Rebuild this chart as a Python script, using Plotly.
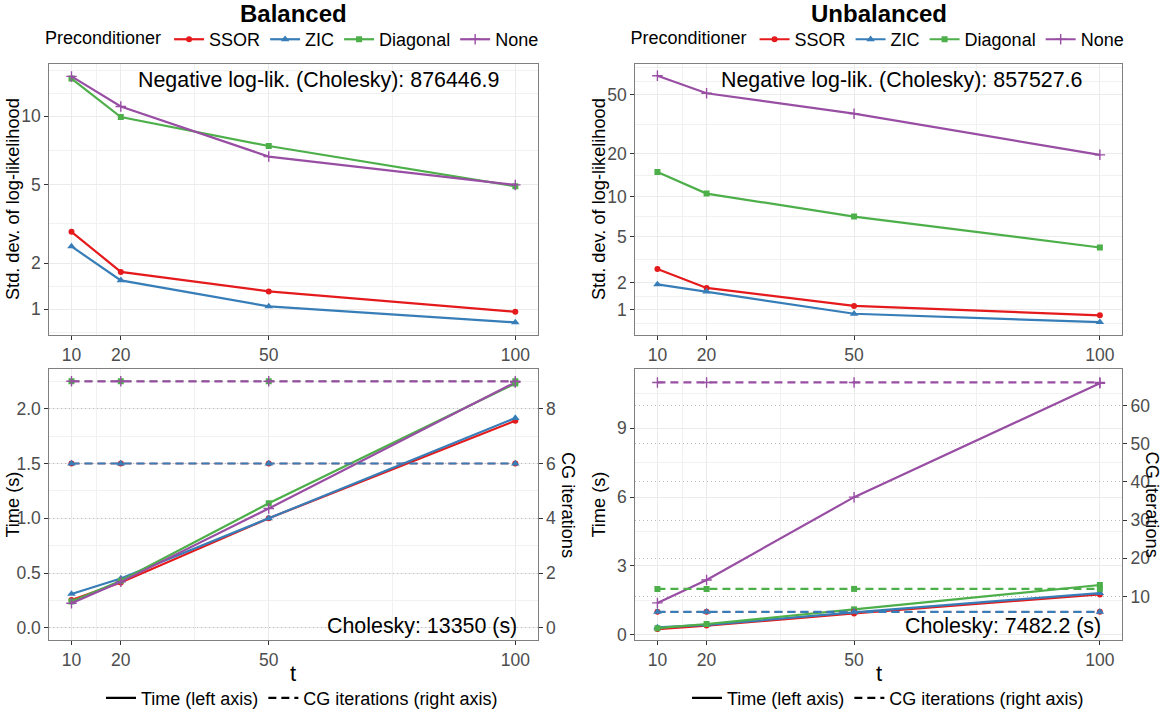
import math
import plotly.graph_objects as go

# ---------------- data ----------------
t_vals = [10, 20, 50, 100]
precs = ["SSOR", "ZIC", "Diagonal", "None"]
colors = {"SSOR": "#E41A1C", "ZIC": "#377EB8", "Diagonal": "#4DAF4A", "None": "#984EA3"}
symbols = {"SSOR": "circle", "ZIC": "triangle-up", "Diagonal": "square", "None": "cross-thin"}

# Std. dev. of log-likelihood
sd_bal_ssor = [2.96, 1.78, 1.34, 0.955]
sd_bal_zic = [2.48, 1.58, 1.05, 0.78]
sd_bal_diag = [14.3, 9.9, 7.44, 4.92]
sd_bal_none = [14.6, 10.96, 6.69, 4.99]

sd_unb_ssor = [2.70, 1.78, 1.12, 0.84]
sd_unb_zic = [1.93, 1.63, 0.884, 0.66]
sd_unb_diag = [14.9, 10.5, 7.14, 4.11]
sd_unb_none = [66.7, 51.1, 37.3, 19.6]

# Time (s)
time_bal_ssor = [0.255, 0.415, 1.0, 1.89]
time_bal_zic = [0.31, 0.45, 1.0, 1.915]
time_bal_diag = [0.24, 0.43, 1.137, 2.23]
time_bal_none = [0.225, 0.42, 1.09, 2.24]

time_unb_ssor = [0.25, 0.40, 0.93, 1.76]
time_unb_zic = [0.32, 0.43, 0.98, 1.82]
time_unb_diag = [0.29, 0.47, 1.11, 2.17]
time_unb_none = [1.39, 2.39, 6.0, 10.96]

# CG iterations
cg_bal_ssor = [6, 6, 6, 6]
cg_bal_zic = [6, 6, 6, 6]
cg_bal_diag = [9, 9, 9, 9]
cg_bal_none = [9, 9, 9, 9]

cg_unb_ssor = [6, 6, 6, 6]
cg_unb_zic = [6, 6, 6, 6]
cg_unb_diag = [12, 12, 12, 12]
cg_unb_none = [66, 66, 66, 66]

titles = ["Balanced", "Unbalanced"]
chol_nll = ["876446.9", "857527.6"]
chol_time = ["13350", "7482.2"]

x_ticks = [10, 20, 50, 100]
sd_ticks_bal = [1, 2, 5, 10]
sd_ticks_unb = [1, 2, 5, 10, 20, 50]
time_ticks_bal = [0, 0.5, 1.0, 1.5, 2.0]
time_ticks_unb = [0, 3, 6, 9]
cg_ticks_bal = [0, 2, 4, 6, 8]
cg_ticks_unb = [10, 20, 30, 40, 50, 60]
cg_scale_bal = 4
cg_scale_unb = 6

sd = {
    "bal": dict(SSOR=sd_bal_ssor, ZIC=sd_bal_zic, Diagonal=sd_bal_diag, None_=sd_bal_none),
    "unb": dict(SSOR=sd_unb_ssor, ZIC=sd_unb_zic, Diagonal=sd_unb_diag, None_=sd_unb_none),
}
tm = {
    "bal": dict(SSOR=time_bal_ssor, ZIC=time_bal_zic, Diagonal=time_bal_diag, None_=time_bal_none),
    "unb": dict(SSOR=time_unb_ssor, ZIC=time_unb_zic, Diagonal=time_unb_diag, None_=time_unb_none),
}
cg = {
    "bal": dict(SSOR=cg_bal_ssor, ZIC=cg_bal_zic, Diagonal=cg_bal_diag, None_=cg_bal_none),
    "unb": dict(SSOR=cg_unb_ssor, ZIC=cg_unb_zic, Diagonal=cg_unb_diag, None_=cg_unb_none),
}

# ---------------- styling ----------------
W, H = 1163, 717
FONT = "Liberation Sans, Arial, Helvetica, sans-serif"
TICK_COL = "#4D4D4D"
GRID = "#EBEBEB"
MINOR = "#F1F1F1"
BORDER = "#7F7F7F"
LW = 2.2
TICK_SIZE = 17.5


def px_x(p):
    return p / W


def px_y(p):
    return 1 - p / H


xdom_l = [px_x(49.3), px_x(537.5)]
xdom_r = [px_x(635.3), px_x(1122.0)]
ydom_top = [px_y(338.3), px_y(64.3)]
ydom_bot = [px_y(647.3), px_y(373.3)]


def key(p):
    return "None_" if p == "None" else p


def marker(p):
    sizes = {"SSOR": 6, "ZIC": 7.5, "Diagonal": 6, "None": 7.5}
    m = dict(symbol=symbols[p], color=colors[p], size=sizes[p])
    if p == "None":
        m.update(line=dict(color=colors[p], width=1.4))
    return m


fig = go.Figure()

panels = [("bal", "x", "y", "x3", "y3", "y5"), ("unb", "x2", "y2", "x4", "y4", "y6")]
for dk, xt, yt, xb, yb, yc in panels:
    for p in precs:
        # top: std dev on a log(1 + y) scale
        fig.add_trace(go.Scatter(
            x=t_vals, y=[v + 1 for v in sd[dk][key(p)]], xaxis=xt, yaxis=yt,
            mode="lines+markers", line=dict(color=colors[p], width=LW),
            marker=marker(p), showlegend=False, name=p))
    for p in precs:
        fig.add_trace(go.Scatter(
            x=t_vals, y=tm[dk][key(p)], xaxis=xb, yaxis=yb,
            mode="lines+markers", line=dict(color=colors[p], width=LW),
            marker=marker(p), showlegend=False, name=p))
    for i, p in enumerate(precs):
        vals = cg[dk][key(p)]
        # series fully covered by a later series are drawn slightly thinner
        covered = any(cg[dk][key(q)] == vals for q in precs[i + 1:])
        fig.add_trace(go.Scatter(
            x=t_vals, y=vals, xaxis=xb, yaxis=yc,
            mode="lines+markers",
            line=dict(color=colors[p], width=1.6 if covered else LW, dash="8px,5px"),
            marker=marker(p), showlegend=False, name=p))

# legend dummy traces
for lg in ["legend", "legend2"]:
    for p in precs:
        fig.add_trace(go.Scatter(
            x=[None], y=[None], xaxis="x", yaxis="y", mode="lines+markers",
            line=dict(color=colors[p], width=LW), marker=marker(p),
            name=p, legend=lg, showlegend=True))
for lg in ["legend3", "legend4"]:
    fig.add_trace(go.Scatter(x=[None], y=[None], xaxis="x3", yaxis="y3", mode="lines",
                             line=dict(color="black", width=LW), name="Time (left axis)",
                             legend=lg, showlegend=True))
    fig.add_trace(go.Scatter(x=[None], y=[None], xaxis="x3", yaxis="y3", mode="lines",
                             line=dict(color="black", width=LW, dash="8px,5px"),
                             name="CG iterations (right axis)", legend=lg, showlegend=True))


def minor_between(vals, lo, hi, log=False):
    """Midpoints between major breaks (ggplot style), extended one step at each end."""
    f = (lambda v: math.log10(v)) if log else (lambda v: v)
    g = (lambda v: 10 ** v) if log else (lambda v: v)
    b = [f(v) for v in vals]
    bd = b[1] - b[0]
    ext = [b[0] - bd] + b + [b[-1] + bd]
    mids = [(ext[i] + ext[i + 1]) / 2 for i in range(len(ext) - 1)] + [ext[-1], ext[0]]
    return [g(m) for m in mids if lo <= m <= hi]


x_minor = [15, 35, 75]
xaxis_common = dict(
    range=[5.5, 104.5], tickmode="array", tickvals=x_ticks, ticktext=[str(v) for v in x_ticks],
    showgrid=True, gridcolor=GRID, gridwidth=1.1, zeroline=False,
    showline=True, linecolor=BORDER, linewidth=1, mirror=True,
    ticks="outside", ticklen=4, tickcolor="#333333", tickwidth=1,
    tickfont=dict(family=FONT, size=TICK_SIZE, color=TICK_COL),
    minor=dict(tickmode="array", tickvals=x_minor, showgrid=True, gridcolor=MINOR, gridwidth=0.7),
)

layout = dict(
    width=W, height=H, autosize=False,
    margin=dict(l=0, r=0, t=0, b=0),
    paper_bgcolor="white", plot_bgcolor="white",
    font=dict(family=FONT, color="black"),
)

layout["xaxis"] = dict(xaxis_common, domain=xdom_l, anchor="y")
layout["xaxis2"] = dict(xaxis_common, domain=xdom_r, anchor="y2")
layout["xaxis3"] = dict(xaxis_common, domain=xdom_l, anchor="y3")
layout["xaxis4"] = dict(xaxis_common, domain=xdom_r, anchor="y4")

yaxis_common = dict(
    showgrid=True, gridcolor=GRID, gridwidth=1.1, zeroline=False,
    showline=True, linecolor=BORDER, linewidth=1, mirror=True,
    ticks="outside", ticklen=4, tickcolor="#333333", tickwidth=1,
    tickfont=dict(family=FONT, size=TICK_SIZE, color=TICK_COL),
)

rng_tl = [0.204, 1.2423]
tv = [v + 1 for v in sd_ticks_bal]
layout["yaxis"] = dict(yaxis_common, type="log", domain=ydom_top, anchor="x", range=rng_tl,
                       tickmode="array", tickvals=tv, ticktext=[str(v) for v in sd_ticks_bal],
                       minor=dict(tickmode="array", tickvals=minor_between(tv, rng_tl[0], rng_tl[1], log=True),
                                  showgrid=True, gridcolor=MINOR, gridwidth=0.7))
rng_tr = [0.1394, 1.9106]
tv = [v + 1 for v in sd_ticks_unb]
layout["yaxis2"] = dict(yaxis_common, type="log", domain=ydom_top, anchor="x2", range=rng_tr,
                        tickmode="array", tickvals=tv, ticktext=[str(v) for v in sd_ticks_unb],
                        minor=dict(tickmode="array", tickvals=minor_between(tv, rng_tr[0], rng_tr[1], log=True),
                                   showgrid=True, gridcolor=MINOR, gridwidth=0.7))

rng_bl = [-0.111, 2.361]
layout["yaxis3"] = dict(yaxis_common, domain=ydom_bot, anchor="x3", range=rng_bl,
                        tickmode="array", tickvals=time_ticks_bal,
                        ticktext=["%.1f" % v for v in time_ticks_bal],
                        minor=dict(tickmode="array", tickvals=minor_between(time_ticks_bal, rng_bl[0], rng_bl[1]),
                                   showgrid=True, gridcolor=MINOR, gridwidth=0.7))
rng_br = [-0.23, 11.58]
layout["yaxis4"] = dict(yaxis_common, domain=ydom_bot, anchor="x4", range=rng_br,
                        tickmode="array", tickvals=time_ticks_unb,
                        ticktext=[str(v) for v in time_ticks_unb],
                        minor=dict(tickmode="array", tickvals=minor_between(time_ticks_unb, rng_br[0], rng_br[1]),
                                   showgrid=True, gridcolor=MINOR, gridwidth=0.7))

sec_common = dict(
    showgrid=True, gridcolor="#BDBDBD", gridwidth=1, griddash="1px,3px", zeroline=False,
    showline=True, linecolor=BORDER, linewidth=1,
    ticks="outside", ticklen=4, tickcolor="#333333", tickwidth=1,
    tickfont=dict(family=FONT, size=TICK_SIZE, color=TICK_COL), side="right",
)
layout["yaxis5"] = dict(sec_common, overlaying="y3", anchor="x3",
                        range=[v * cg_scale_bal for v in rng_bl],
                        tickmode="array", tickvals=cg_ticks_bal, ticktext=[str(v) for v in cg_ticks_bal])
layout["yaxis6"] = dict(sec_common, overlaying="y4", anchor="x4",
                        range=[v * cg_scale_unb for v in rng_br],
                        tickmode="array", tickvals=cg_ticks_unb, ticktext=[str(v) for v in cg_ticks_unb])

leg_font = dict(family=FONT, size=18, color="black")
for name, cx in [("legend", 293.5), ("legend2", 879)]:
    layout[name] = dict(orientation="h", x=px_x(cx), xanchor="center", y=px_y(40), yanchor="middle",
                        title=dict(text="Preconditioner", side="left", font=leg_font), font=leg_font,
                        bgcolor="rgba(0,0,0,0)", itemwidth=30, tracegroupgap=0)
for name, cx in [("legend3", 302), ("legend4", 888)]:
    layout[name] = dict(orientation="h", x=px_x(cx), xanchor="center", y=px_y(706), yanchor="middle",
                        font=leg_font, bgcolor="rgba(0,0,0,0)", itemwidth=30)

ann = []
title_font = dict(family=FONT, size=24, color="black")
ax_font = dict(family=FONT, size=18.2, color="black")
txt_font = dict(family=FONT, size=21.4, color="black")
centers = [293.4, 878.6]
ytitle_x = [13, 599]
cg_x = [568.7, 1152]
nll_right = [501, 1084]
chol_right = [519, 1103]
for i in range(2):
    ann.append(dict(text="<b>%s</b>" % titles[i], x=px_x(centers[i]), y=px_y(14), xref="paper", yref="paper",
                    xanchor="center", yanchor="middle", showarrow=False, font=title_font))
    ann.append(dict(text="Negative log-lik. (Cholesky): %s" % chol_nll[i], x=px_x(nll_right[i]), y=px_y(81),
                    xref="paper", yref="paper", xanchor="right", yanchor="middle", showarrow=False, font=txt_font))
    ann.append(dict(text="Cholesky: %s (s)" % chol_time[i], x=px_x(chol_right[i]), y=px_y(633),
                    xref="paper", yref="paper", xanchor="right", yanchor="middle", showarrow=False, font=txt_font))
    ann.append(dict(text="Std. dev. of log-likelihood", x=px_x(ytitle_x[i]), y=px_y(201.3), textangle=-90,
                    xref="paper", yref="paper", xanchor="center", yanchor="middle", showarrow=False, font=ax_font))
    ann.append(dict(text="Time (s)", x=px_x(ytitle_x[i]), y=px_y(510.3), textangle=-90,
                    xref="paper", yref="paper", xanchor="center", yanchor="middle", showarrow=False, font=ax_font))
    ann.append(dict(text="CG iterations", x=px_x(cg_x[i]), y=px_y(510.3), textangle=90,
                    xref="paper", yref="paper", xanchor="center", yanchor="middle", showarrow=False, font=ax_font))
    ann.append(dict(text="t", x=px_x(centers[i]), y=px_y(681), xref="paper", yref="paper",
                    xanchor="center", yanchor="middle", showarrow=False, font=dict(family=FONT, size=22, color="black")))
layout["annotations"] = ann

fig.update_layout(**layout)
fig.write_html("out.html", config={"displayModeBar": False},
               post_script="document.body.style.margin='0px';")
